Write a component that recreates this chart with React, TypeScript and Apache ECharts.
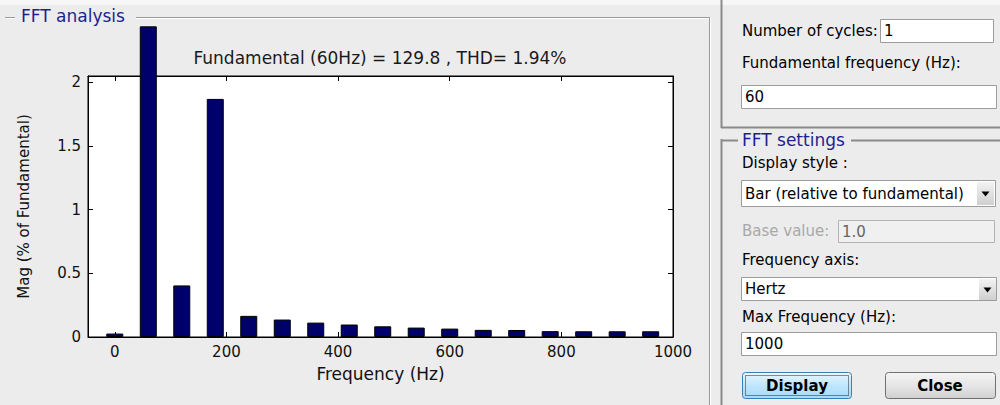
import React, { useEffect, useRef } from "react";
import * as echarts from "echarts";

const frequencies = [0, 60, 120, 180, 240, 300, 360, 420, 480, 540, 600, 660, 720, 780, 840, 900, 960];
const magnitudes = [0.027, 2.44, 0.405, 1.87, 0.166, 0.137, 0.113, 0.098, 0.084, 0.074, 0.066, 0.056, 0.055, 0.046, 0.045, 0.045, 0.045];
const xTicks = [0, 200, 400, 600, 800, 1000];
const yTicks = [0, 0.5, 1, 1.5, 2];
const titleText = "Fundamental (60Hz) = 129.8 , THD= 1.94%";
const xName = "Frequency (Hz)";
const yName = "Mag (% of Fundamental)";

const FONT = "DejaVu Sans";

function txt(x: number, y: number, text: string, opts: any = {}) {
  return {
    type: "text",
    x,
    y,
    z: 10,
    style: {
      text,
      fill: opts.fill || "#000",
      font: `${opts.weight || "normal"} ${opts.size || 15}px "${FONT}"`,
      textAlign: opts.align || "left",
      textVerticalAlign: "middle",
    },
  };
}

function box(x: number, y: number, w: number, h: number, fill = "#fff", stroke = "#9c9c9c") {
  return {
    type: "rect",
    z: 5,
    shape: { x: x + 0.5, y: y + 0.5, width: w, height: h },
    style: { fill, stroke, lineWidth: 1 },
  };
}

function hline(x1: number, x2: number, y: number, color = "#9a9a9a", w = 1) {
  return {
    type: "line",
    z: 5,
    shape: { x1, y1: y + 0.5, x2, y2: y + 0.5 },
    style: { stroke: color, lineWidth: w },
  };
}

function vline(x: number, y1: number, y2: number, color = "#9a9a9a", w = 1) {
  return {
    type: "line",
    z: 5,
    shape: { x1: x + 0.5, y1, x2: x + 0.5, y2 },
    style: { stroke: color, lineWidth: w },
  };
}

function arrowButton(x: number, y: number, w: number, h: number) {
  const cx = x + w / 2;
  const cy = y + h / 2;
  return [
    {
      type: "rect",
      z: 6,
      shape: { x, y, width: w, height: h },
      style: {
        fill: new echarts.graphic.LinearGradient(0, 0, 0, 1, [
          { offset: 0, color: "#f3f3f3" },
          { offset: 1, color: "#cfcfcf" },
        ]),
      },
    },
    {
      type: "polygon",
      z: 7,
      shape: { points: [[cx - 4, cy - 2], [cx + 4, cy - 2], [cx, cy + 3]] },
      style: { fill: "#000" },
    },
  ];
}

function buildGraphics() {
  const g: any[] = [];
  g.push({ type: "rect", z: 1, shape: { x: 0, y: 0, width: 1000, height: 5 }, style: { fill: "#f7f7f7" } });
  // left group frame
  g.push(hline(5, 15, 17, "#9a9a9a"));
  g.push(hline(5, 15, 18, "#ffffff"));
  g.push(hline(136, 710, 17, "#9a9a9a"));
  g.push(hline(136, 710, 18, "#ffffff"));
  g.push(vline(709, 17, 405, "#9a9a9a"));
  g.push(vline(710, 18, 405, "#ffffff"));
  g.push(txt(21, 16, "FFT analysis", { size: 17, fill: "#1f1f8f" }));
  // title
  g.push(txt(380, 58, titleText, { size: 17, align: "center", fill: "#1a1a1a" }));

  // right upper panel
  g.push(vline(721, 0, 128, "#8a8a8a", 2));
  g.push(hline(721, 1000, 127, "#8a8a8a", 2));
  g.push(txt(742, 31, "Number of cycles:"));
  g.push(box(880, 19, 113, 23));
  g.push(txt(884, 31, "1"));
  g.push(txt(742, 63, "Fundamental frequency (Hz):"));
  g.push(box(741, 85, 255, 23));
  g.push(txt(745, 97, "60"));

  // FFT settings group
  g.push(hline(721, 738, 140, "#8a8a8a", 2));
  g.push(hline(851, 1000, 140, "#8a8a8a", 2));
  g.push(vline(721, 139, 405, "#8a8a8a", 2));
  g.push(txt(742, 140, "FFT settings", { size: 17, fill: "#1f1f8f" }));
  g.push(txt(742, 163, "Display style :"));
  g.push(box(741, 180, 254, 26));
  g.push(...arrowButton(977, 182, 17, 23));
  g.push(txt(745, 194, "Bar (relative to fundamental)"));
  g.push(txt(742, 231, "Base value:", { fill: "#a8a8a8" }));
  g.push(box(838, 220, 156, 22, "#f0f0f0", "#b3b3b3"));
  g.push(txt(842, 232, "1.0", { fill: "#666" }));
  g.push(txt(742, 260, "Frequency axis:"));
  g.push(box(741, 277, 255, 23));
  g.push(...arrowButton(979, 279, 17, 21));
  g.push(txt(745, 289, "Hertz"));
  g.push(txt(742, 317, "Max Frequency (Hz):"));
  g.push(box(741, 332, 255, 23));
  g.push(txt(745, 344, "1000"));

  // Display button
  g.push({
    type: "rect",
    z: 5,
    shape: { x: 742.5, y: 372.5, width: 109, height: 26, r: 3 },
    style: {
      fill: new echarts.graphic.LinearGradient(0, 0, 0, 1, [
        { offset: 0, color: "#eaf6fd" },
        { offset: 0.5, color: "#bee6fd" },
        { offset: 1, color: "#a7d9f5" },
      ]),
      stroke: "#3c7fb1",
      lineWidth: 1,
    },
  });
  g.push({
    type: "rect",
    z: 6,
    shape: { x: 745.5, y: 375.5, width: 103, height: 20 },
    style: { fill: "none", stroke: "#222", lineWidth: 1, lineDash: [1, 1] },
  });
  g.push(txt(797, 386, "Display", { weight: "bold", size: 15, align: "center" }));
  // Close button
  g.push({
    type: "rect",
    z: 5,
    shape: { x: 885.5, y: 372.5, width: 110, height: 26, r: 3 },
    style: {
      fill: new echarts.graphic.LinearGradient(0, 0, 0, 1, [
        { offset: 0, color: "#f4f4f4" },
        { offset: 0.5, color: "#e6e6e6" },
        { offset: 1, color: "#d0d0d0" },
      ]),
      stroke: "#707070",
      lineWidth: 1,
    },
  });
  g.push(txt(940, 386, "Close", { weight: "bold", size: 15, align: "center" }));
  return g;
}

export default function App() {
  const ref = useRef<HTMLDivElement>(null);
  useEffect(() => {
    if (!ref.current) return;
    const chart = echarts.init(ref.current, null, { renderer: "svg" });
    const axisText = { color: "#111", fontSize: 15, fontFamily: FONT };
    const xMin = -48;
    const xMax = 1000;
    chart.setOption({
      animation: false,
      backgroundColor: "#ececec",
      textStyle: { fontFamily: FONT },
      grid: {
        left: 88,
        top: 76,
        width: 585,
        height: 261,
        show: true,
        backgroundColor: "#ffffff",
        borderColor: "#000",
        borderWidth: 1,
      },
      xAxis: [
        {
          type: "value",
          min: xMin,
          max: xMax,
          position: "bottom",
          axisLine: { show: true, onZero: false, lineStyle: { color: "#000", width: 1 } },
          axisTick: { show: true, inside: true, length: 5, customValues: xTicks, lineStyle: { color: "#000" } },
          axisLabel: { show: true, customValues: xTicks, margin: 7, formatter: (v: number) => String(v), ...axisText },
          splitLine: { show: false },
          name: xName,
          nameLocation: "middle",
          nameGap: 28,
          nameTextStyle: { color: "#111", fontSize: 17, fontFamily: FONT },
        },
        {
          type: "value",
          min: xMin,
          max: xMax,
          position: "top",
          axisLine: { show: true, onZero: false, lineStyle: { color: "#000", width: 1 } },
          axisTick: { show: true, inside: true, length: 5, customValues: xTicks, lineStyle: { color: "#000" } },
          axisLabel: { show: false },
          splitLine: { show: false },
        },
      ],
      yAxis: [
        {
          type: "value",
          min: 0,
          max: 2.05,
          position: "left",
          axisLine: { show: true, onZero: false, lineStyle: { color: "#000", width: 1 } },
          axisTick: { show: true, inside: true, length: 5, customValues: yTicks, lineStyle: { color: "#000" } },
          axisLabel: { show: true, customValues: yTicks, margin: 7, formatter: (v: number) => String(v), ...axisText },
          splitLine: { show: false },
          name: yName,
          nameLocation: "middle",
          nameGap: 57,
          nameTextStyle: { color: "#111", fontSize: 15, fontFamily: FONT },
        },
        {
          type: "value",
          min: 0,
          max: 2.05,
          position: "right",
          axisLine: { show: true, onZero: false, lineStyle: { color: "#000", width: 1 } },
          axisTick: { show: true, inside: true, length: 5, customValues: yTicks, lineStyle: { color: "#000" } },
          axisLabel: { show: false },
          splitLine: { show: false },
        },
      ],
      series: [
        {
          type: "bar",
          xAxisIndex: 0,
          yAxisIndex: 0,
          clip: false,
          barWidth: 17,
          data: frequencies.map((f, i) => [f, magnitudes[i]]),
          itemStyle: { color: "#00006a", borderColor: "#000", borderWidth: 1 },
          emphasis: { disabled: true },
        },
      ],
      graphic: { elements: buildGraphics() },
    });
    return () => chart.dispose();
  }, []);
  return (
    <div
      ref={ref}
      style={{ position: "absolute", left: 0, top: 0, width: 1000, height: 405, background: "#ececec" }}
    />
  );
}
